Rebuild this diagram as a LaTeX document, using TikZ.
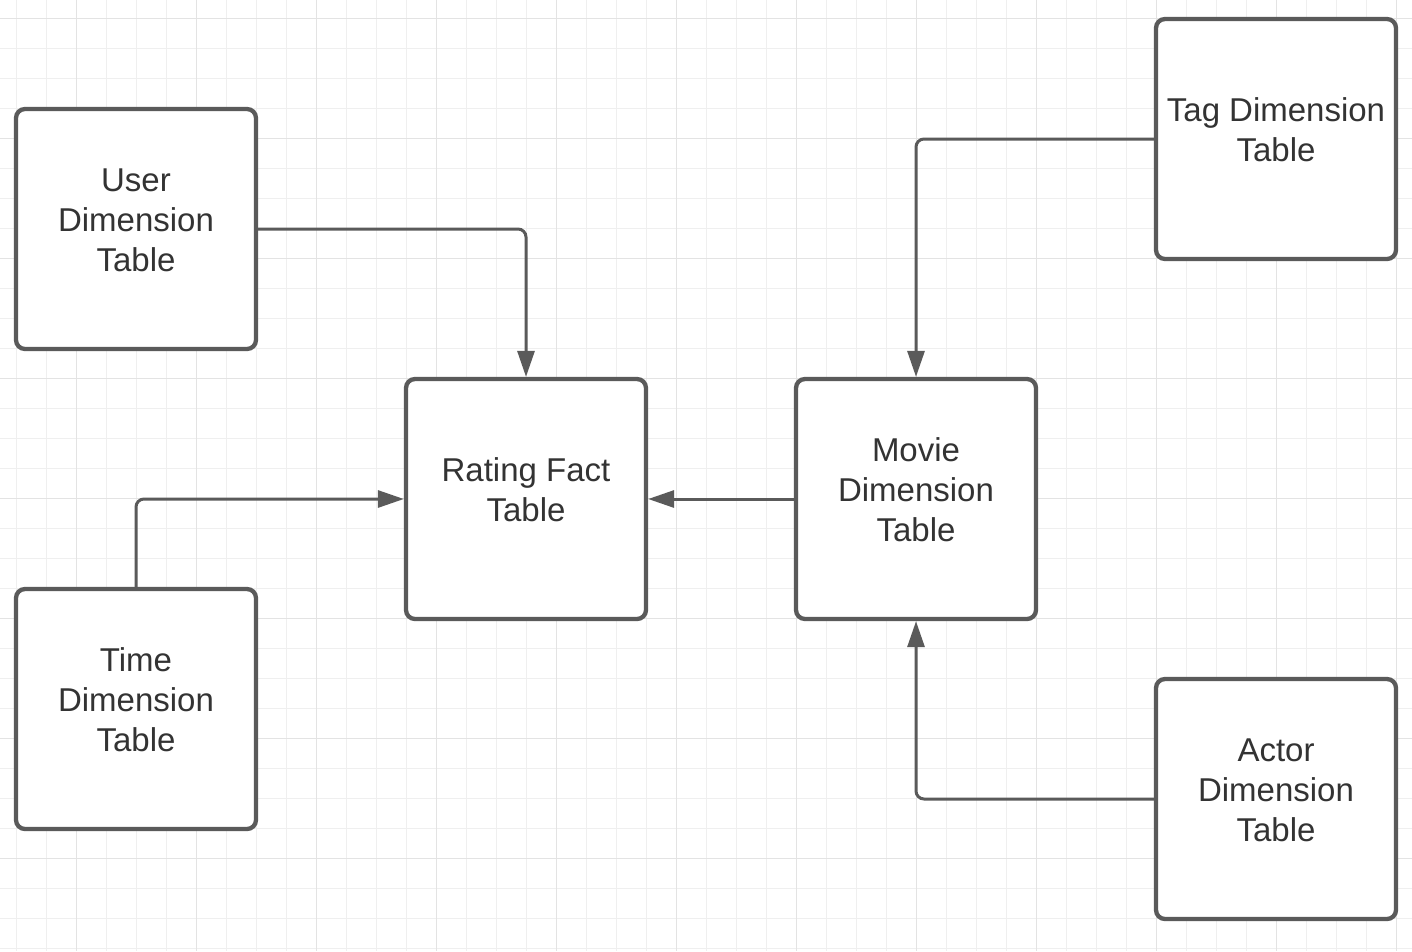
\documentclass[tikz,border=0pt]{standalone}
\usepackage{fontspec}
\setmainfont{Liberation Sans}
\usetikzlibrary{arrows.meta}

\definecolor{boxline}{HTML}{5A5A5A}
\definecolor{boxtext}{HTML}{333333}
\definecolor{gridminor}{HTML}{EFEFEF}
\definecolor{gridmajor}{HTML}{E3E3E3}

\begin{document}
\begin{tikzpicture}[
    x=1pt,
    y=-1pt,
    tbl/.style={
        draw=boxline,
        line width=4.3pt,
        rectangle,
        rounded corners=9pt,
        fill=white,
        minimum width=240pt,
        minimum height=240pt,
        align=center,
        text=boxtext,
        font=\fontsize{33}{40}\selectfont,
        execute at end node={\rule[-18pt]{0pt}{18pt}}
    },
    link/.style={
        draw=boxline,
        line width=3pt,
        rounded corners=8pt,
        -{Triangle[length=26pt,width=17pt]}
    }
]

% background grid
\useasboundingbox (0,0) rectangle (1412,951);
\fill[white] (0,0) rectangle (1412,951);
\foreach \i in {0,...,46} \draw[gridminor, line width=1pt] ({16.7+30*\i},0) -- ({16.7+30*\i},951);
\foreach \i in {0,...,31} \draw[gridminor, line width=1pt] (0,{18.3+30*\i}) -- (1412,{18.3+30*\i});
\foreach \i in {0,...,11} \draw[gridmajor, line width=1pt] ({76.7+120*\i},0) -- ({76.7+120*\i},951);
\foreach \i in {0,...,7} \draw[gridmajor, line width=1pt] (0,{18.3+120*\i}) -- (1412,{18.3+120*\i});

\node[tbl] (user) at (136,229) {User\\Dimension\\Table};
\node[tbl] (rating) at (526,499) {Rating Fact\\Table};
\node[tbl] (movie) at (916,499) {Movie\\Dimension\\Table};
\node[tbl] (tag) at (1276,139) {Tag Dimension\\Table};
\node[tbl] (actor) at (1276,799) {Actor\\Dimension\\Table};
\node[tbl] (time) at (136,709) {Time\\Dimension\\Table};

\draw[link] (user.east) -| (rating.north);
\draw[link] (time.north) |- (rating.west);
\draw[link] (movie.west) -- (rating.east);
\draw[link] (tag.west) -| (movie.north);
\draw[link] (actor.west) -| (movie.south);

\end{tikzpicture}
\end{document}
